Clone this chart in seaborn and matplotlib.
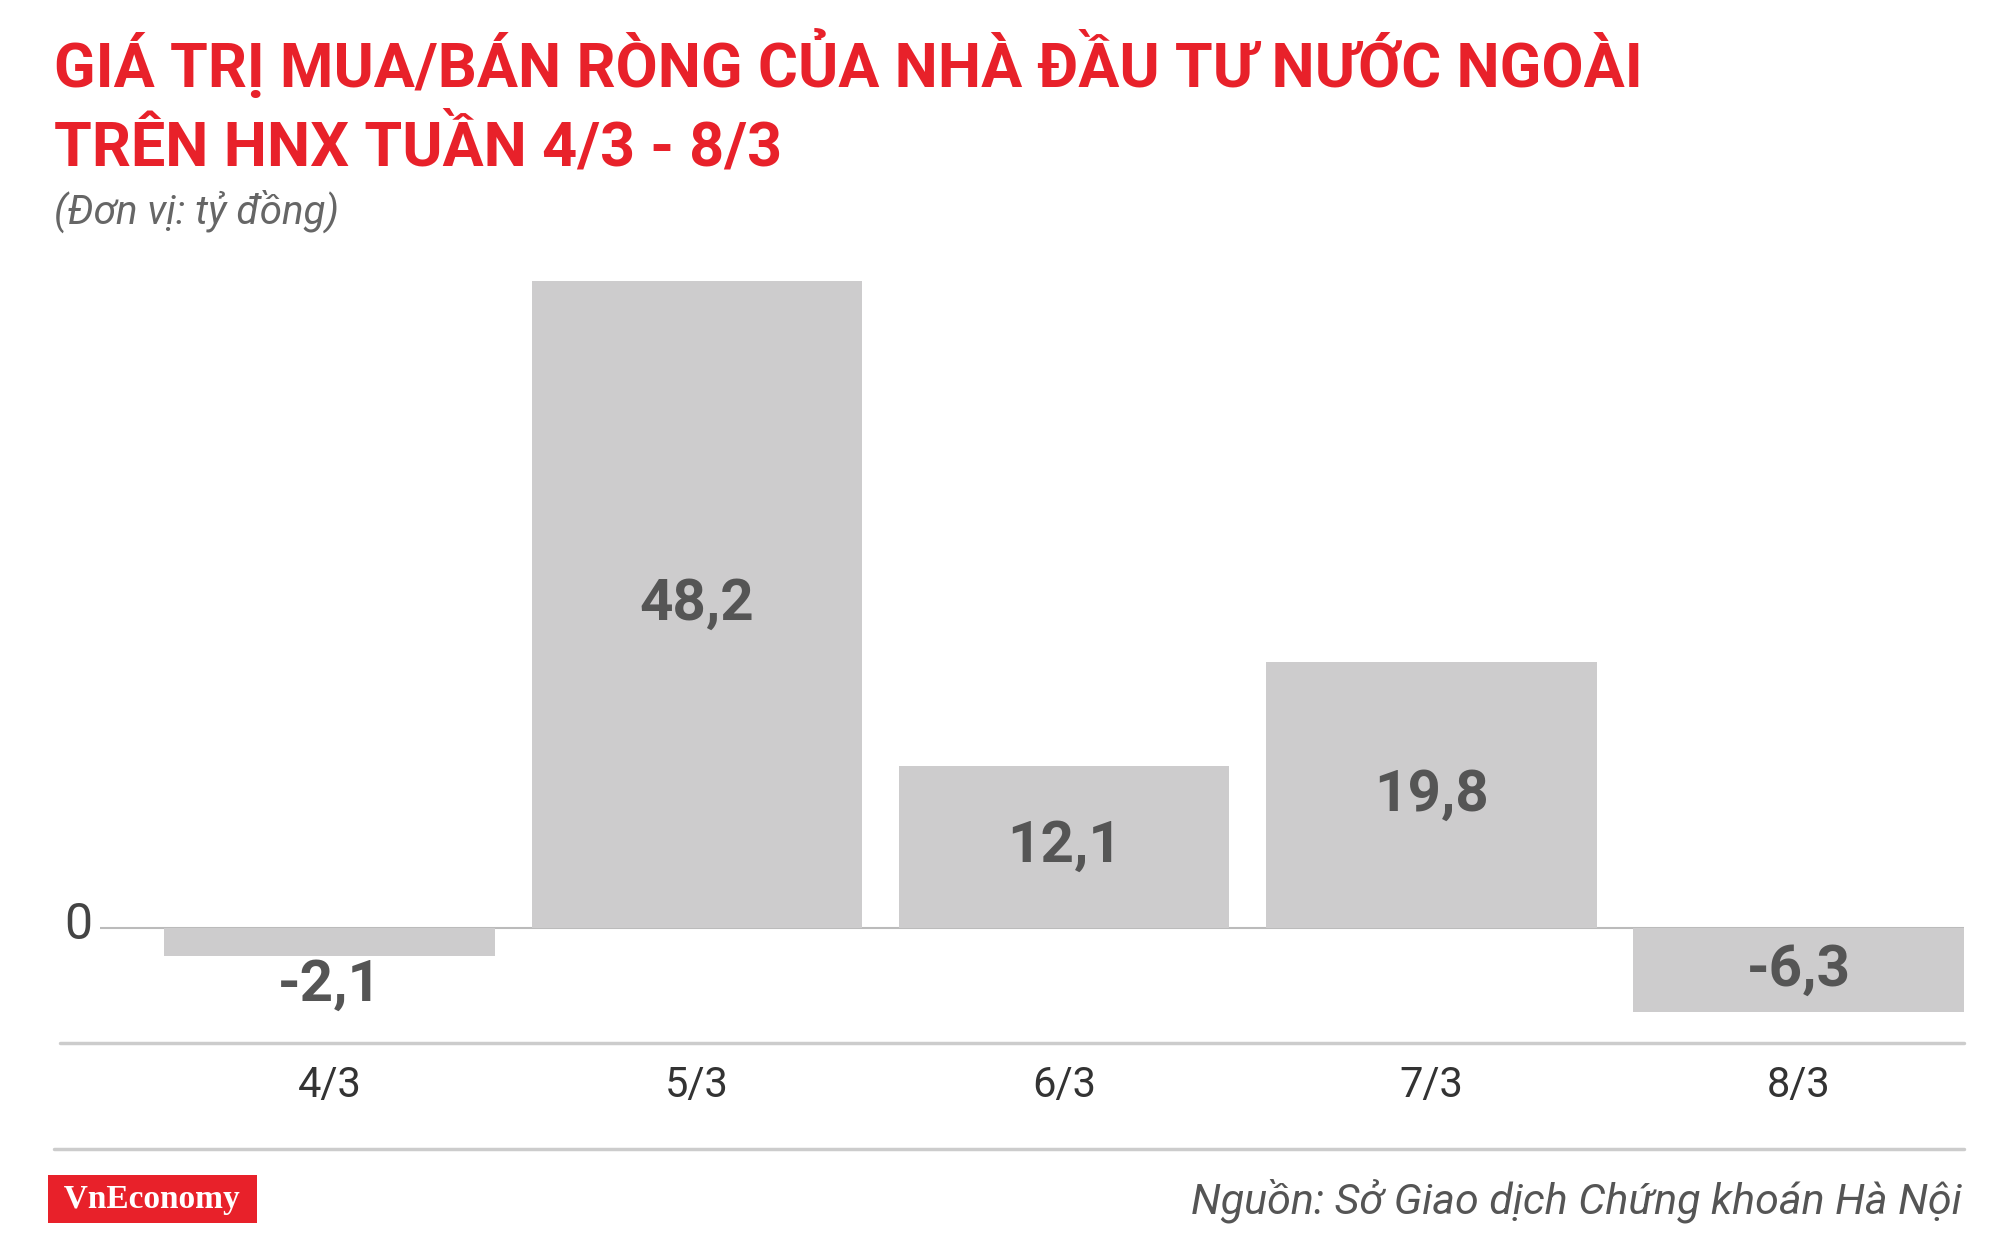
import matplotlib
matplotlib.use("Agg")
import matplotlib.pyplot as plt
import seaborn as sns
import pandas as pd

days = ["4/3", "5/3", "6/3", "7/3", "8/3"]
values = [-2.1, 48.2, 12.1, 19.8, -6.3]
value_labels = ["-2,1", "48,2", "12,1", "19,8", "-6,3"]

RED = "#E8212A"
GRAY_BAR = "#CDCCCD"
DARK = "#555555"

sns.set_theme(style="white")
plt.rcParams["font.family"] = ["Roboto", "DejaVu Sans"]

df = pd.DataFrame({"day": days, "value": values})

fig = plt.figure(figsize=(20, 12.35), dpi=100)
ax = fig.add_axes([0.05, 0.1554, 0.932, 0.6373])
sns.barplot(data=df, x="day", y="value", color=GRAY_BAR, width=0.9,
            saturation=1, ax=ax, edgecolor="none")
ax.set_xlim(-0.625, 4.45)
ax.set_ylim(-8.6, 50.1)
for s in ax.spines.values():
    s.set_visible(False)
ax.set_xticks([])
ax.set_yticks([])
ax.set_xlabel("")
ax.set_ylabel("")
ax.axhline(0, color="#BBBBBB", lw=1.5, zorder=0)

for i, (v, lab) in enumerate(zip(values, value_labels)):
    y = v / 2 if abs(v) > 4 else v - 2.2
    ax.text(i, y, lab, ha="center", va="center", fontsize=42,
            fontweight="bold", color=DARK)

fig.text(0.032, 1 - 723 / 965, "0", ha="left", va="center", fontsize=36, color="#444444")

# axis base line and tick labels
fig.add_artist(plt.Line2D([47 / 1560, 1532 / 1560], [1 - 815 / 965] * 2,
                          color="#CCCCCC", lw=2.5))
for i, d in enumerate(days):
    fig.text((257 + 286.5 * i) / 1560, 1 - 848 / 965, d, ha="center", va="center",
             fontsize=30, color="#333333")
fig.add_artist(plt.Line2D([42 / 1560, 1532 / 1560], [1 - 898 / 965] * 2,
                          color="#CCCCCC", lw=2.5))

# titles
fig.text(42 / 1560, 1 - 50 / 965, "GIÁ TRỊ MUA/BÁN RÒNG CỦA NHÀ ĐẦU TƯ NƯỚC NGOÀI",
         ha="left", va="center", fontsize=44, fontweight="bold", color=RED)
fig.text(42 / 1560, 1 - 115 / 965, "TRÊN HNX TUẦN 4/3 - 8/3",
         ha="left", va="center", fontsize=44, fontweight="bold", color=RED)
fig.text(42 / 1560, 1 - 165 / 965, "(Đơn vị: tỷ đồng)", ha="left", va="center",
         fontsize=29, style="italic", color="#666666")

# footer
fig.text(44 / 1560, 1 - 937 / 965, " VnEconomy ", ha="left", va="center",
         fontsize=24, fontweight="bold", color="white", family="Liberation Serif",
         bbox=dict(boxstyle="square,pad=0.25", fc=RED, ec="none"))
fig.text(1530 / 1560, 1 - 938 / 965, "Nguồn: Sở Giao dịch Chứng khoán Hà Nội",
         ha="right", va="center", fontsize=31, style="italic", color="#555555")

fig.savefig("out.png", dpi=100, facecolor="white")
